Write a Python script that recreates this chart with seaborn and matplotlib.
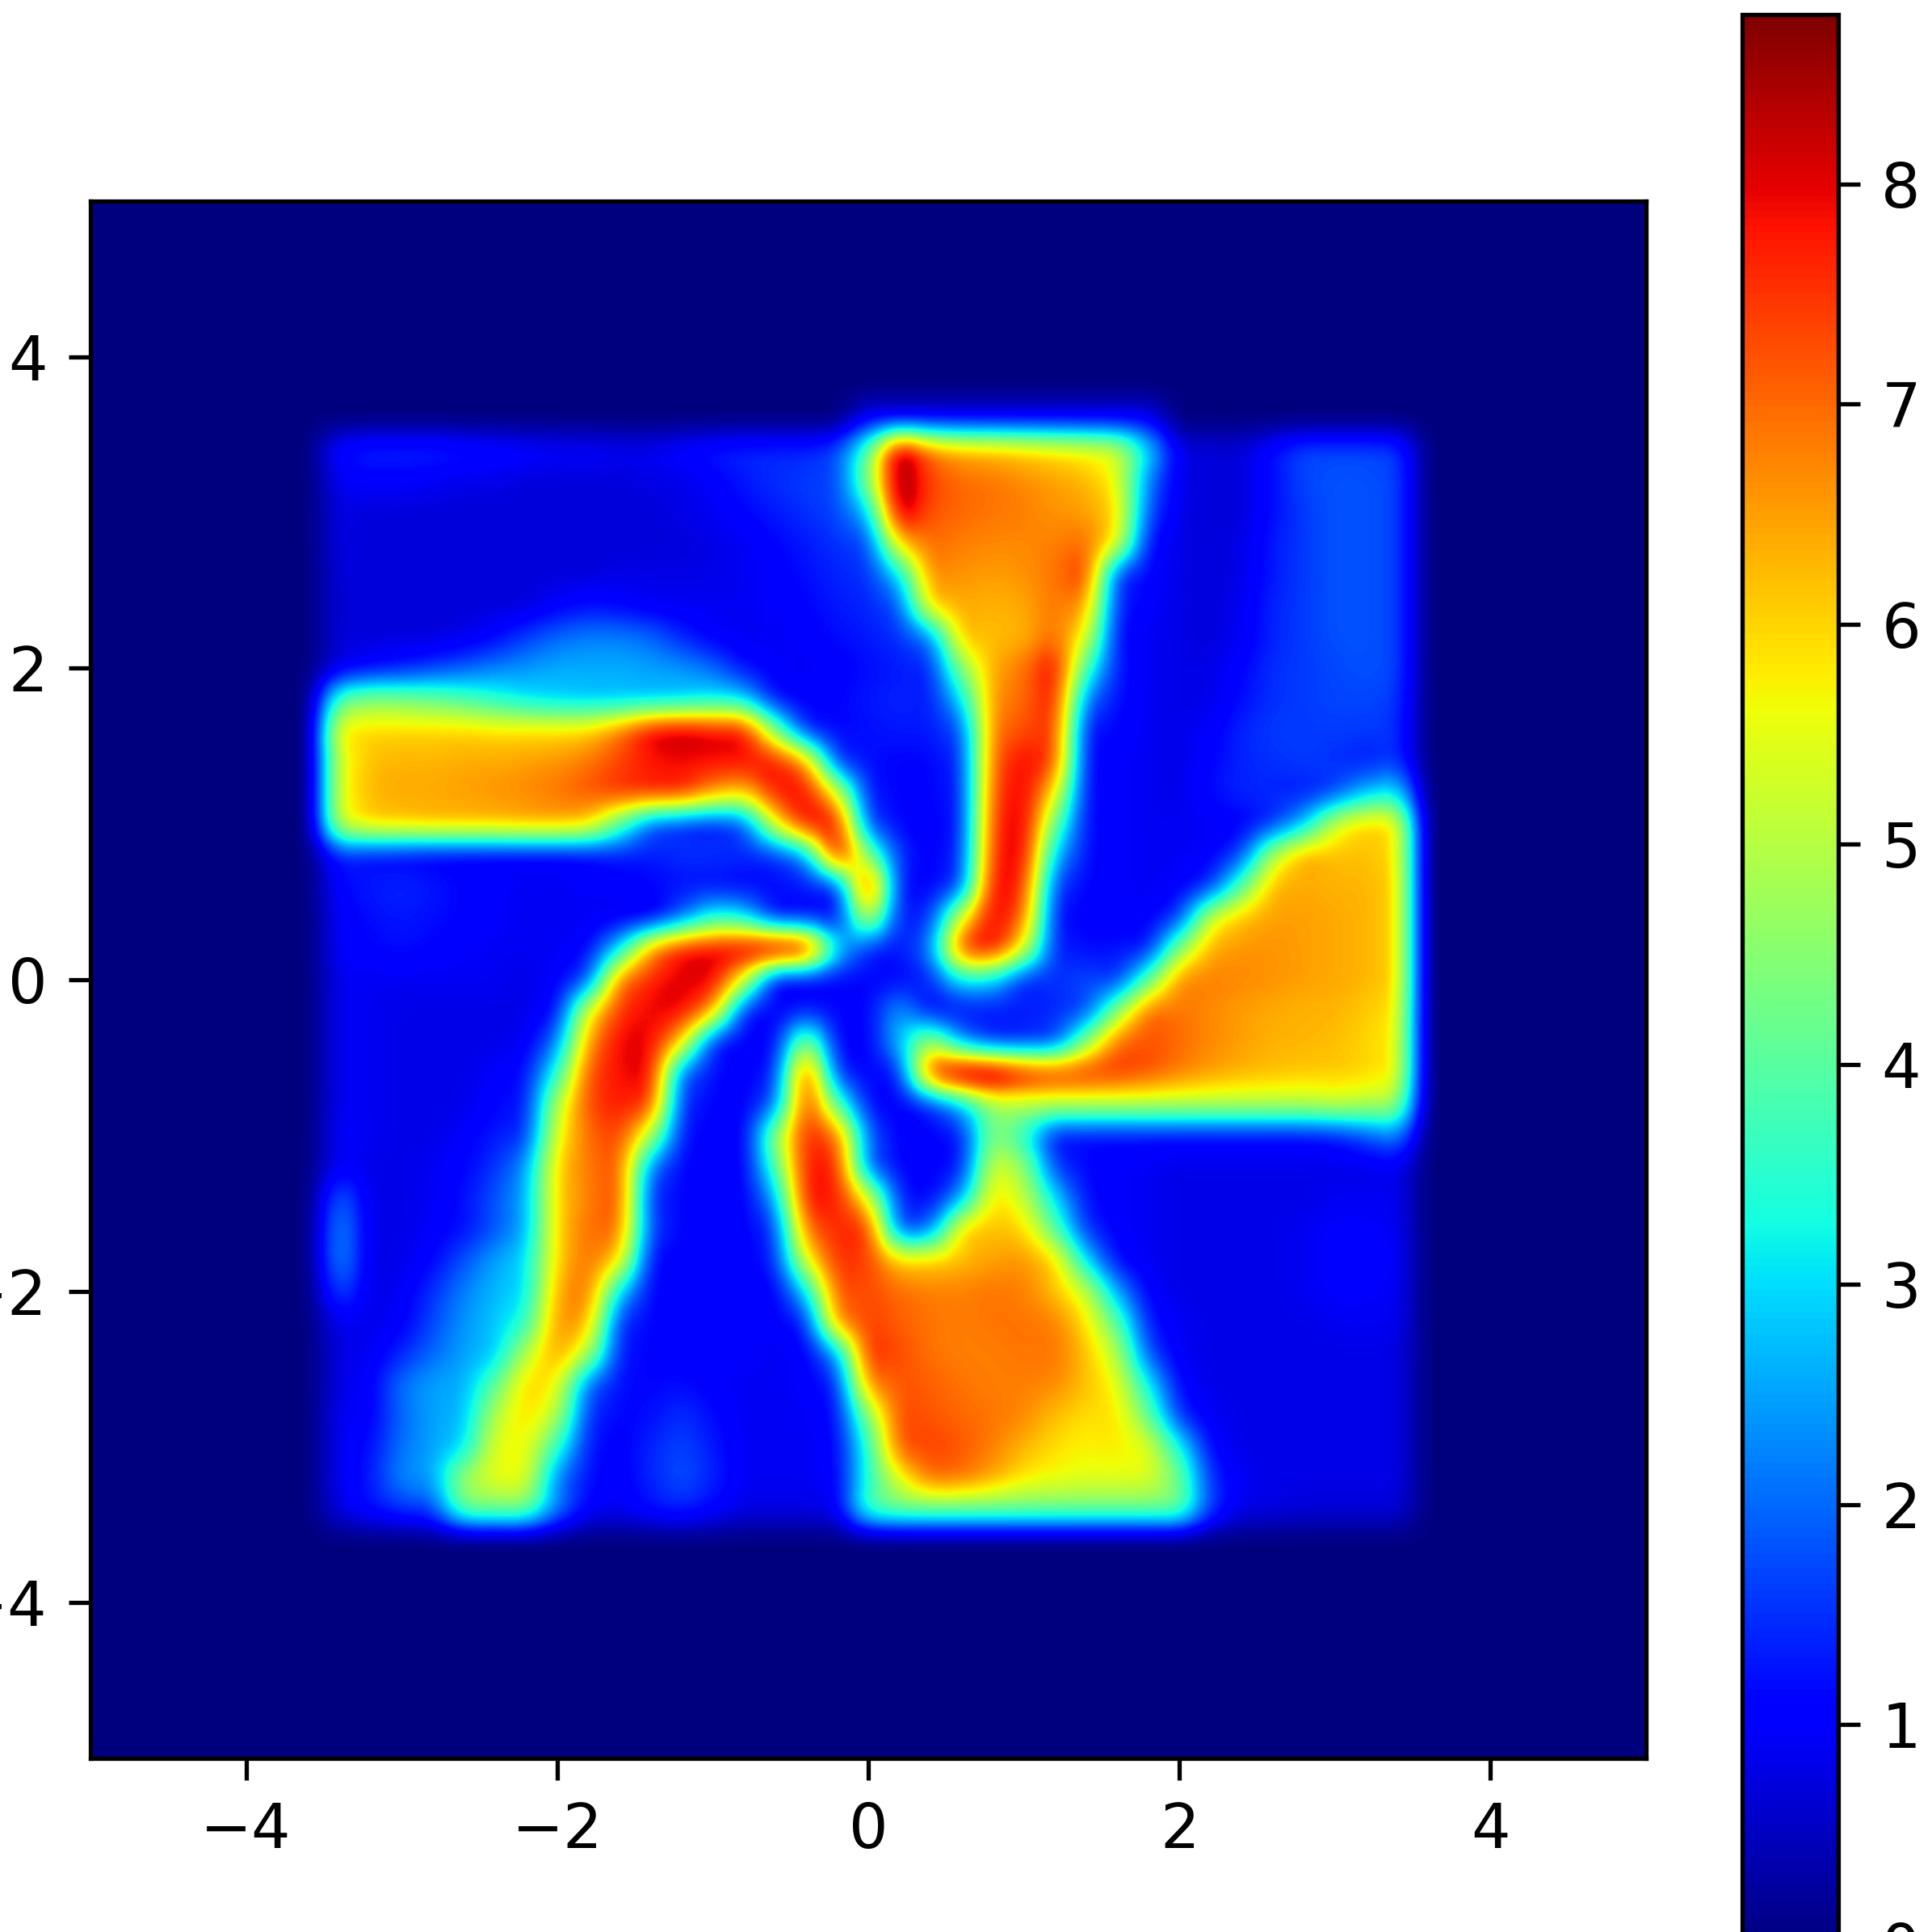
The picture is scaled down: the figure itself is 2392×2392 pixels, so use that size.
import numpy as np
import matplotlib
matplotlib.use("Agg")
import matplotlib.pyplot as plt
import seaborn as sns

# values at x = -3.6 .. 3.6, step 0.2, one list per y
y_p36 = [0]*18 + [1.0]*10 + [0]*9
y_p34 = [0,1.2,1.4,1.4,1.4,1.3,1.2,1.1,1.0,1.0,.9,.9,1.1,1.3,1.4,1.4,1.4,1.7,4.0,8.6,6.8,6.3,6.2,6.0,5.8,5.6,5.3,3.0,.8,.7,.7,1.2,1.7,1.7,1.7,1.6,0]
y_p32 = [0,.9,1.0,1.0,.9,.8,.8,.7,.7,.7,.7,.8,.8,1.0,1.3,1.5,1.6,1.7,4.5,8.8,7.4,7.0,6.9,6.7,6.5,6.3,5.6,2.2,.8,.7,.7,1.2,1.7,1.8,1.8,1.7,0]
y_p30 = [0,.8,.7,.7,.7,.7,.7,.7,.7,.7,.7,.7,.8,.9,1.1,1.3,1.5,1.7,2.8,8.4,7.2,7.0,6.9,6.8,6.6,6.5,6.0,1.8,.8,.7,.7,1.2,1.6,1.8,1.8,1.7,0]
y_p28 = [0,.8,.7,.7,.7,.7,.7,.7,.7,.7,.7,.7,.7,.8,.9,1.1,1.3,1.5,1.7,6.0,7.0,6.8,6.7,6.7,6.8,7.0,5.6,1.2,.8,.7,.8,1.3,1.6,1.8,1.8,1.7,0]
y_p26 = [0,.7,.7,.7,.7,.7,.7,.7,.7,.7,.8,.8,.8,.8,.9,1.0,1.2,1.4,1.5,3.0,6.7,6.6,6.5,6.6,6.9,7.5,1.6,1.1,.8,.7,.8,1.3,1.6,1.8,1.8,1.7,0]
y_p24 = [0,.7,.7,.7,.7,.7,.7,.7,1.0,1.2,1.1,.9,.9,.9,.9,1.0,1.1,1.3,1.4,1.8,6.0,6.4,6.3,6.4,6.9,6.5,1.4,1.0,.8,.7,.9,1.4,1.6,1.8,1.8,1.7,0]
y_p22 = [0,.7,.7,.7,.7,.8,1.1,1.6,2.0,2.2,2.2,2.0,1.4,1.0,.9,.9,1.0,1.2,1.3,1.5,2.2,6.2,6.2,6.3,7.0,5.5,1.2,.9,.8,.7,.9,1.4,1.6,1.8,1.8,1.7,0]
y_p20 = [0,.8,1.1,1.3,1.6,1.9,2.2,2.4,2.6,2.6,2.6,2.5,2.4,2.0,1.2,1.0,.9,1.0,1.2,1.3,1.4,4.5,6.4,6.9,8.0,3.8,1.3,.9,.8,.8,1.1,1.5,1.6,1.7,1.8,1.7,0]
y_p18 = [0,4.0,4.5,4.4,4.2,3.9,3.5,3.1,2.9,2.8,2.8,2.8,2.9,3.2,3.0,1.2,1.0,1.1,1.3,1.4,1.3,3.0,6.6,7.0,7.8,2.2,1.2,.9,.8,.8,1.2,1.5,1.6,1.7,1.7,1.6,0]
y_p16 = [0,5.8,6.0,6.0,6.0,6.0,5.9,5.9,5.9,6.0,6.8,8.0,8.3,8.0,7.9,4.5,1.4,1.1,1.2,1.3,1.3,1.8,6.8,7.3,7.5,1.3,1.1,.9,.8,1.0,1.4,1.6,1.6,1.6,1.6,1.5,0]
y_p14 = [0,5.4,6.2,6.3,6.3,6.4,6.4,6.5,6.6,6.9,7.4,7.8,7.9,7.9,7.9,7.9,6.5,1.6,1.2,1.1,1.1,1.5,7.0,8.0,7.3,1.2,1.0,.9,.8,1.1,1.4,1.5,1.6,1.5,1.3,1.6,0]
y_p12 = [0,5.5,6.3,6.4,6.4,6.5,6.6,6.7,6.9,7.2,7.5,7.6,7.6,6.5,6.0,7.8,8.0,5.5,1.3,1.1,1.1,1.4,7.2,8.1,5.8,1.2,1.0,.9,.8,1.2,1.4,1.4,1.3,1.7,2.8,3.2,0]
y_p10 = [0,5.3,6.0,6.1,6.2,6.2,6.2,6.3,6.3,6.0,4.0,1.9,1.5,1.3,1.8,5.5,7.9,7.9,1.8,1.1,1.0,1.4,7.4,8.2,4.2,1.2,1.0,.9,.9,.9,1.0,1.5,2.8,5.3,6.1,5.8,0]
y_p08 = [0,1.4,1.2,1.1,1.0,1.0,1.0,1.0,1.0,1.1,1.3,1.3,1.5,1.5,1.4,1.5,2.5,8.0,4.5,1.5,1.0,1.5,7.6,8.1,2.8,1.2,1.0,.9,.9,1.0,1.7,5.0,6.4,6.2,6.2,5.9,0]
y_p06 = [0,1.1,1.3,1.4,1.3,1.1,1.0,.9,.9,1.0,1.0,1.1,1.2,1.2,1.1,1.1,1.2,1.5,7.8,1.3,1.0,1.8,8.0,7.6,1.7,1.1,1.0,.9,1.0,1.5,4.0,6.3,6.4,6.3,6.3,6.0,0]
y_p04 = [0,1.0,1.2,1.3,1.2,1.1,1.0,.9,.9,.9,.9,.9,2.0,3.5,3.2,1.3,1.2,1.1,5.5,1.3,1.5,5.5,8.1,7.0,1.3,1.0,1.0,1.0,1.6,5.3,6.2,6.5,6.5,6.4,6.3,6.0,0]
y_p02 = [0,1.0,1.1,1.2,1.1,1.0,.9,.9,.9,1.1,3.0,6.5,7.8,8.0,8.3,8.7,8.2,3.0,1.4,1.2,2.2,7.5,8.0,5.5,1.4,1.2,1.2,1.3,4.5,6.4,6.6,6.6,6.5,6.4,6.3,6.0,0]
y_000 = [0,.9,.9,.9,.9,.9,.9,.8,1.0,1.8,6.8,7.7,8.1,8.1,5.5,1.1,1.0,1.1,1.1,1.1,1.4,3.2,3.0,1.4,1.5,1.7,1.5,4.0,6.7,6.8,6.7,6.6,6.5,6.4,6.3,6.0,0]
y_m02 = [0,.9,.9,.8,.8,.8,.8,.8,1.2,5.5,7.5,8.0,8.0,6.5,1.4,1.0,1.3,1.1,1.1,2.5,1.1,1.1,1.2,1.3,1.4,1.7,4.5,7.0,6.9,6.7,6.5,6.4,6.3,6.3,6.1,5.8,0]
y_m04 = [0,.9,.9,.8,.8,.8,.8,.9,2.2,6.5,8.0,8.0,6.0,1.4,1.0,1.1,4.8,1.1,1.0,2.8,5.0,2.5,1.5,1.5,1.7,4.5,7.0,7.3,7.0,6.7,6.5,6.3,6.3,6.2,6.0,5.7,0]
y_m06 = [0,.9,.9,.8,.8,.8,1.0,1.2,3.5,7.2,7.9,8.0,2.0,1.2,1.0,1.4,7.5,1.6,1.0,1.4,7.5,8.9,8.9,8.0,7.6,7.6,7.5,7.2,6.8,6.5,6.3,6.2,6.1,6.1,6.0,5.7,0]
y_m08 = [0,.9,.9,.8,.8,.8,1.1,1.3,5.0,7.3,7.8,7.4,1.5,1.1,1.0,2.0,7.6,4.0,1.2,1.0,1.5,2.8,4.8,5.0,5.0,5.0,5.0,5.0,5.0,5.0,5.0,5.0,5.0,5.2,5.0,4.8,0]
y_m10 = [0,1.0,.9,.8,.8,1.0,1.3,1.5,5.5,7.0,7.4,5.0,1.3,1.0,1.0,4.5,7.7,7.0,2.0,1.0,1.0,1.3,4.5,3.5,1.2,1.2,1.2,1.2,1.2,1.2,1.2,1.2,1.2,1.3,1.8,2.3,0]
y_m12 = [0,1.0,.8,.8,.9,1.1,1.5,2.4,6.0,6.9,7.2,2.2,1.1,1.0,1.0,3.8,7.8,7.7,2.0,1.1,1.0,1.3,5.4,4.7,1.6,1.1,1.0,.9,.8,.8,.8,.8,.8,.8,.8,.9,0]
y_m14 = [0,2.0,.8,.8,.9,1.2,1.8,2.6,6.0,6.8,7.3,1.5,1.1,1.0,1.0,2.5,7.8,7.8,5.5,1.4,1.0,2.5,6.0,5.2,3.0,1.2,1.0,.9,.8,.8,.8,.8,.8,.9,.9,.9,0]
y_m16 = [0,2.4,.8,.8,1.0,1.2,1.8,2.6,6.0,7.0,7.0,1.7,1.1,1.0,1.0,1.6,6.9,7.7,7.5,1.7,2.0,6.0,6.2,6.0,4.0,1.5,1.0,.9,.8,.8,.8,.8,.9,1.0,1.0,.9,0]
y_m18 = [0,2.4,.8,.8,1.1,1.8,2.5,3.0,6.0,7.0,6.0,1.2,1.0,1.0,1.0,1.4,5.5,7.6,7.4,6.0,6.0,6.2,6.5,6.6,6.0,3.0,1.1,.9,.8,.8,.8,.8,.9,1.0,1.1,1.0,0]
y_m20 = [0,1.8,.8,.9,1.5,2.2,2.7,3.0,6.4,7.0,3.0,1.1,1.0,1.0,1.0,1.0,3.0,7.2,7.3,7.0,6.8,6.8,6.9,6.8,6.2,5.2,2.5,1.0,.8,.8,.8,.8,.9,1.0,1.0,.9,0]
y_m22 = [0,.9,.8,1.0,1.7,2.4,2.8,3.5,6.7,6.4,1.5,1.1,1.0,1.0,1.0,1.0,1.4,6.6,7.4,7.1,6.9,6.8,6.9,6.9,6.8,5.9,4.0,1.3,.9,.8,.8,.8,.8,.9,.9,.9,0]
y_m24 = [0,.8,.9,1.4,2.0,2.5,2.8,5.0,6.6,5.0,1.3,1.1,1.0,1.0,1.0,.9,1.0,2.5,7.6,7.3,6.9,6.8,6.8,6.9,6.9,6.2,5.0,1.8,.9,.8,.8,.8,.8,.8,.8,.8,0]
y_m26 = [0,.8,1.0,2.1,2.5,2.6,4.0,6.1,5.7,2.0,1.2,1.1,1.2,1.0,.9,.9,1.0,1.4,6.6,7.2,7.1,6.9,6.8,6.8,6.7,6.2,5.6,3.2,1.1,.8,.8,.8,.8,.8,.8,.8,0]
y_m28 = [0,.9,1.0,2.0,2.5,2.7,5.0,6.0,5.0,1.5,1.1,1.2,1.5,1.2,.9,.9,.9,1.2,4.5,7.3,7.2,7.0,6.9,6.7,6.2,5.9,5.9,4.2,1.5,.9,.8,.8,.8,.8,.8,.8,0]
y_m30 = [0,.9,1.2,2.1,2.5,3.0,5.5,5.7,3.6,1.3,1.0,1.4,1.7,1.3,.9,.9,.9,1.1,3.5,7.2,7.4,7.2,6.8,6.3,5.9,5.7,5.8,5.5,3.3,1.1,.8,.8,.8,.8,.8,.8,0]
y_m32 = [0,.9,1.3,2.3,2.5,4.8,5.6,5.6,2.2,1.2,1.0,1.4,1.8,1.4,.9,.9,.9,1.0,3.5,5.5,7.0,6.9,6.4,5.8,5.6,5.5,5.5,5.5,4.3,1.5,.9,.8,.8,.8,.8,.8,0]
y_m34 = [0,.8,1.2,1.5,1.7,4.2,4.3,4.3,2.2,1.0,.9,1.2,1.4,1.1,.8,.8,.8,.9,3.8,4.2,4.2,4.2,4.2,4.2,4.2,4.2,4.2,4.2,4.2,1.6,.8,.8,.7,.7,.7,.7,0]
y_m36 = [0]*37

xy_ticks = [-4, -2, 0, 2, 4]
cbar_ticks = [0, 1, 2, 3, 4, 5, 6, 7, 8]
vmin, vmax = 0, 8.77

rows = [y_p36,y_p34,y_p32,y_p30,y_p28,y_p26,y_p24,y_p22,y_p20,y_p18,y_p16,y_p14,y_p12,y_p10,
        y_p08,y_p06,y_p04,y_p02,y_000,y_m02,y_m04,y_m06,y_m08,y_m10,y_m12,y_m14,y_m16,y_m18,
        y_m20,y_m22,y_m24,y_m26,y_m28,y_m30,y_m32,y_m34,y_m36]
field = np.pad(np.array(rows, dtype=float), 7)   # empty border out to +-5

sns.set_style("white")
plt.rcParams["font.family"] = ["DejaVu Sans"]
W = H = 2392
fig = plt.figure(figsize=(W/200, H/200), dpi=200)
ax = fig.add_axes([112/W, 1-2177/H, (2038-112)/W, (2177-249)/H])
cax = fig.add_axes([2157/W, 1-2408/H, (2276-2157)/W, (2408-18)/H])

sns.heatmap(field, ax=ax, cbar_ax=cax, cmap="jet", vmin=vmin, vmax=vmax,
            xticklabels=False, yticklabels=False)
n = field.shape[0]
# smooth rendering of the same cells, same colour scale
ax.imshow(field, cmap="jet", vmin=vmin, vmax=vmax, extent=(0, n, n, 0),
          interpolation="quadric", interpolation_stage="data", aspect="auto", zorder=2)
pos = lambda v: (v + 5.1) / 0.2
ax.set_xlim(pos(-5), pos(5))
ax.set_ylim(pos(5), pos(-5))
ax.set_xticks([pos(v) for v in xy_ticks])
ax.set_xticklabels([str(v).replace("-", "\u2212") for v in xy_ticks])
ax.set_yticks([pos(-v) for v in xy_ticks])
ax.set_yticklabels([str(v).replace("-", "\u2212") for v in xy_ticks], rotation=0)
lw = 1.9
for s in ax.spines.values():
    s.set_visible(True); s.set_linewidth(lw); s.set_color("black"); s.set_zorder(5)
ax.tick_params(left=True, bottom=True, length=9.6, width=lw, pad=9.6, labelsize=27.5, color="black", labelcolor="black")

cb = ax.collections[0].colorbar
cb.set_ticks(cbar_ticks)
cb.outline.set_visible(True); cb.outline.set_linewidth(lw); cb.outline.set_edgecolor("black")
cax.tick_params(right=True, length=9.6, width=lw, pad=9.6, labelsize=27.5, color="black", labelcolor="black")

fig.savefig("out.png", dpi=200)
